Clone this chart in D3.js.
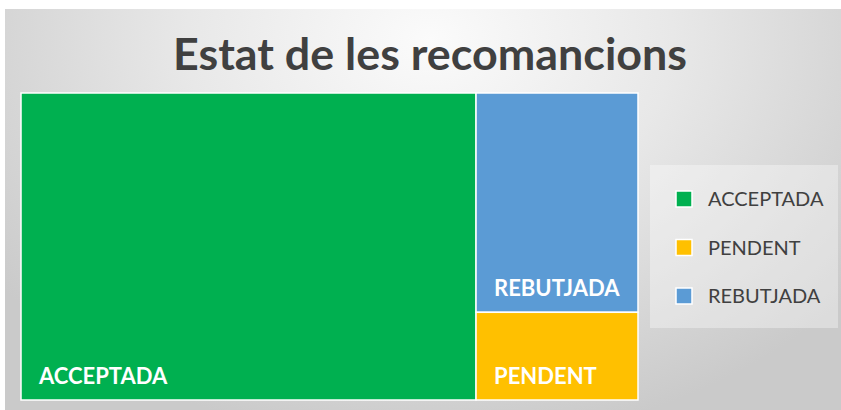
<!DOCTYPE html>
<html><head><meta charset="utf-8">
<script src="https://cdn.jsdelivr.net/npm/d3@7"></script>
<style>html,body{margin:0;padding:0;background:#fff;}svg{display:block;}</style>
</head><body>
<svg id="chart" width="841" height="410"></svg>
<script>
const title = "Estat de les recomancions";
const categories = ["ACCEPTADA", "PENDENT", "REBUTJADA"];
const values = [59, 6, 15];
const colors = ["#00B050", "#FFC000", "#5B9BD5"];

const W = 841, H = 410;
const svg = d3.select("#chart");
const defs = svg.append("defs");
const grad = defs.append("radialGradient").attr("id", "bg")
  .attr("gradientUnits", "userSpaceOnUse")
  .attr("cx", 430).attr("cy", 40).attr("r", 540)
  .attr("gradientTransform", "translate(430,40) scale(1,0.75) translate(-430,-40)");
grad.append("stop").attr("offset", "0").attr("stop-color", "#fbfbfb");
grad.append("stop").attr("offset", "0.45").attr("stop-color", "#e8e8e8");
grad.append("stop").attr("offset", "1").attr("stop-color", "#cacaca");

svg.append("rect").attr("x", 5).attr("y", 9).attr("width", W - 5).attr("height", H - 9)
  .attr("fill", "url(#bg)");

svg.append("text").text(title)
  .attr("x", 430).attr("y", 70)
  .attr("text-anchor", "middle")
  .attr("font-family", "Lato, 'Open Sans', sans-serif")
  .attr("font-weight", "bold").attr("font-size", 43)
  .attr("textLength", 514).attr("lengthAdjust", "spacingAndGlyphs")
  .attr("fill", "#404040");

// Treemap
const tm = {x0: 21, y0: 93, x1: 638, y1: 400};
const data = {children: categories.map((c, i) => ({name: c, value: values[i], color: colors[i]}))};
const root = d3.hierarchy(data).sum(d => d.value || 0).sort((a, b) => b.value - a.value);
d3.treemap().tile(d3.treemapSquarify).size([tm.x1 - tm.x0, tm.y1 - tm.y0]).paddingInner(0)(root);

const g = svg.append("g").attr("transform", `translate(${tm.x0},${tm.y0})`);
const cells = g.selectAll("g.cell").data(root.leaves()).join("g").attr("class", "cell");
cells.append("rect")
  .attr("x", d => d.x0).attr("y", d => d.y0)
  .attr("width", d => d.x1 - d.x0).attr("height", d => d.y1 - d.y0)
  .attr("fill", d => d.data.color)
  .attr("stroke", "#ffffff").attr("stroke-width", 1.5);
cells.append("text").text(d => d.data.name)
  .attr("x", d => d.x0 + 18).attr("y", d => d.y1 - 16)
  .attr("font-family", "Lato, 'Open Sans', sans-serif")
  .attr("font-weight", "bold").attr("font-size", 22)
  .attr("fill", "#ffffff");

// Legend
const lg = svg.append("g");
lg.append("rect").attr("x", 650).attr("y", 165).attr("width", 188).attr("height", 163)
  .attr("fill", "#ffffff").attr("fill-opacity", 0.35);
const ly = d3.scalePoint().domain(categories).range([199, 296]);
const items = lg.selectAll("g.item").data(categories).join("g").attr("class", "item");
items.append("rect")
  .attr("x", 676).attr("y", d => ly(d) - 8).attr("width", 16).attr("height", 16)
  .attr("fill", (d, i) => colors[i]).attr("stroke", "#ffffff").attr("stroke-width", 1.5);
items.append("text").text(d => d)
  .attr("x", 708).attr("y", d => ly(d) + 7)
  .attr("font-family", "Lato, 'Open Sans', sans-serif")
  .attr("font-size", 20).attr("fill", "#404040");
</script>
</body></html>
